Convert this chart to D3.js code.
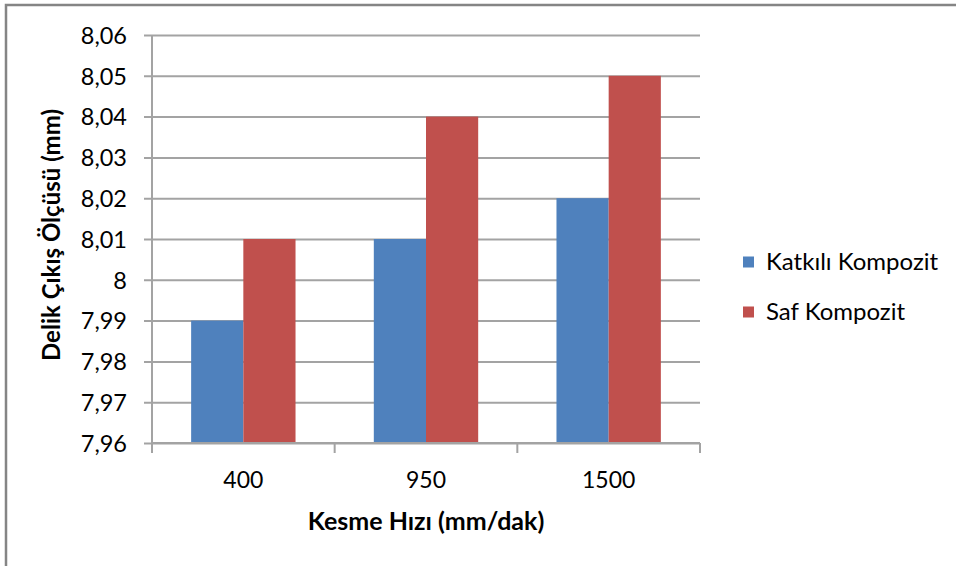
<!DOCTYPE html>
<html>
<head>
<meta charset="utf-8">
<script src="https://cdn.jsdelivr.net/npm/d3@7"></script>
<style>
  html, body { margin: 0; padding: 0; background: #fff; }
  svg { display: block; }
  text { font-family: Lato, "Open Sans", sans-serif; fill: #000; }
</style>
</head>
<body>
<svg id="chart" width="956" height="566"></svg>
<script>
// Hole exit size by cutting speed
const categories = ["400", "950", "1500"];
const seriesNames = ["Katkılı Kompozit", "Saf Kompozit"];
const katkiliValues = [7.99, 8.01, 8.02];
const safValues = [8.01, 8.04, 8.05];
const yTicks = [7.96, 7.97, 7.98, 7.99, 8.00, 8.01, 8.02, 8.03, 8.04, 8.05, 8.06];
const yTickLabels = ["7,96", "7,97", "7,98", "7,99", "8", "8,01", "8,02", "8,03", "8,04", "8,05", "8,06"];
const colors = ["#4F81BD", "#C0504D"];

const rows = categories.map((c, i) => ({
  cat: c,
  values: [
    { name: seriesNames[0], v: katkiliValues[i] },
    { name: seriesNames[1], v: safValues[i] }
  ]
}));

const svg = d3.select("#chart");
const plot = { left: 152, right: 700, top: 35, bottom: 443 };

// Chart frame
svg.append("rect")
  .attr("x", 6).attr("y", 5)
  .attr("width", 956).attr("height", 600)
  .attr("fill", "#fff")
  .attr("stroke", "#858585")
  .attr("stroke-width", 2.5);

const x = d3.scaleBand().domain(categories).range([plot.left, plot.right]).padding(0);
const xs = d3.scaleBand().domain(seriesNames).range([0, x.bandwidth()])
  .paddingInner(0).paddingOuter(0.75);
const y = d3.scaleLinear().domain([7.96, 8.06]).range([plot.bottom, plot.top]);
const color = d3.scaleOrdinal().domain(seriesNames).range(colors);

const gridColor = "#a3a3a3";

// Horizontal gridlines with outward tick marks
const tickOut = 8;
const yAxis = d3.axisLeft(y)
  .tickValues(yTicks)
  .tickSize(plot.right - plot.left + tickOut)
  .tickFormat((d, i) => yTickLabels[i]);
const gy = svg.append("g")
  .attr("transform", `translate(${plot.right},0)`)
  .call(yAxis);
gy.select(".domain").remove();
gy.selectAll(".tick line").attr("stroke", gridColor).attr("stroke-width", 2);
gy.selectAll(".tick text")
  .attr("x", -(plot.right - plot.left) - 25)
  .attr("dy", "0.35em")
  .style("font-size", "23.5px")
  .style("font-family", "Lato, sans-serif");

// Bars
const groups = svg.append("g").selectAll("g")
  .data(rows).join("g")
  .attr("transform", d => `translate(${x(d.cat)},0)`);
groups.selectAll("rect")
  .data(d => d.values).join("rect")
  .attr("x", d => xs(d.name))
  .attr("width", xs.bandwidth())
  .attr("y", d => y(d.v))
  .attr("height", d => y(7.96) - y(d.v))
  .attr("fill", d => color(d.name));

// Vertical axis line
svg.append("line")
  .attr("x1", plot.left).attr("x2", plot.left)
  .attr("y1", plot.top).attr("y2", plot.bottom)
  .attr("stroke", gridColor).attr("stroke-width", 2);

// Category axis: boundary ticks, labels
const boundaries = categories.map(c => x(c)).concat([x(categories[categories.length - 1]) + x.bandwidth()]);
svg.append("line")
  .attr("x1", plot.left).attr("x2", plot.right)
  .attr("y1", plot.bottom).attr("y2", plot.bottom)
  .attr("stroke", gridColor).attr("stroke-width", 2);
svg.append("g").selectAll("line")
  .data(boundaries).join("line")
  .attr("x1", d => d).attr("x2", d => d)
  .attr("y1", plot.bottom).attr("y2", plot.bottom + 10)
  .attr("stroke", gridColor).attr("stroke-width", 2);
svg.append("g").selectAll("text")
  .data(categories).join("text")
  .attr("x", d => x(d) + x.bandwidth() / 2)
  .attr("y", 480)
  .attr("dy", "0.35em")
  .attr("text-anchor", "middle")
  .style("font-size", "23px")
  .text(d => d);

// Axis titles
svg.append("text")
  .attr("x", (plot.left + plot.right) / 2)
  .attr("y", 521)
  .attr("dy", "0.35em")
  .attr("text-anchor", "middle")
  .style("font-size", "25px")
  .style("font-weight", "bold")
  .text("Kesme Hızı (mm/dak)");

svg.append("text")
  .attr("transform", "translate(52,235) rotate(-90)")
  .attr("dy", "0.35em")
  .attr("text-anchor", "middle")
  .style("font-size", "24px")
  .style("font-weight", "bold")
  .text("Delik Çıkış Ölçüsü (mm)");

// Legend
const legend = svg.append("g").selectAll("g")
  .data(seriesNames).join("g")
  .attr("transform", (d, i) => `translate(743,${262 + i * 50})`);
legend.append("rect")
  .attr("x", 0).attr("y", -5.5)
  .attr("width", 11).attr("height", 11)
  .attr("fill", d => color(d));
legend.append("text")
  .attr("x", 23)
  .attr("dy", "0.35em")
  .style("font-size", "24px")
  .text(d => d);
</script>
</body>
</html>
